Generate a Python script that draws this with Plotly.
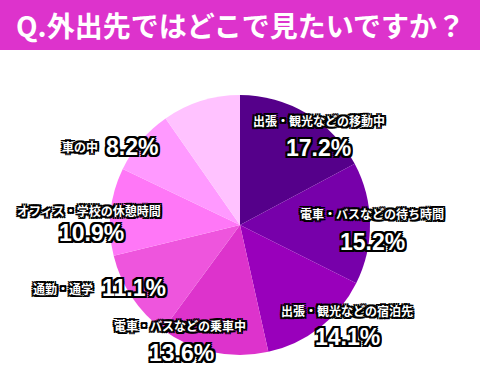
import plotly.graph_objects as go

title_text = "Q.外出先ではどこで見たいですか？"
categories = ["出張・観光などの移動中", "電車・バスなどの待ち時間", "出張・観光などの宿泊先",
              "電車・バスなどの乗車中", "通勤・通学", "オフィス・学校の休憩時間", "車の中", "その他"]
values = [17.2, 15.2, 14.1, 13.6, 11.1, 10.9, 8.2, 9.7]
colors = ["#55008a", "#7700aa", "#9900bb", "#dd33cc", "#ee55dd", "#ff77f7", "#ff99ff", "#ffc2ff"]

W, H = 480, 370
# label layout (pixel positions): (name_x, name_y, pct_x, pct_y, name_anchor, pct_anchor)
label_pos = [
    (319, 120, 318, 148, "center", "center"),
    (372, 213, 372, 242, "center", "center"),
    (347, 310, 347, 337, "center", "center"),
    (180, 325, 181, 353, "center", "center"),
    (95, 288, 100, 288, "right", "left"),
    (89, 210, 91, 233, "center", "center"),
    (100, 146, 104, 147, "right", "left"),
]

fig = go.Figure()
fig.add_trace(go.Pie(
    labels=categories, values=values, sort=False, direction="clockwise", rotation=0,
    marker=dict(colors=colors, line=dict(width=0)),
    textinfo="none", hoverinfo="label+percent",
    domain=dict(x=[110 / W, 370 / W], y=[1 - 355 / H, 1 - 95 / H]),
    showlegend=False,
))

outline = ("-2px -2px 0 #000, 2px -2px 0 #000, -2px 2px 0 #000, 2px 2px 0 #000, "
           "0 2px 0 #000, 0 -2px 0 #000, 2px 0 0 #000, -2px 0 0 #000")
annotations = []
for i, (nx, ny, px, py, na, pa) in enumerate(label_pos):
    annotations.append(dict(
        text=categories[i], x=nx / W, y=1 - ny / H, xref="paper", yref="paper",
        xanchor=na, yanchor="middle", showarrow=False,
        font=dict(family="Noto Sans CJK JP", size=12, color="white", weight="bold", shadow=outline),
    ))
    annotations.append(dict(
        text=f"{values[i]:.1f}%", x=px / W, y=1 - py / H, xref="paper", yref="paper",
        xanchor=pa, yanchor="middle", showarrow=False,
        font=dict(family="Liberation Sans", size=23, color="white", weight="bold", shadow=outline),
    ))

annotations.append(dict(
    text=title_text, x=0.5, y=1 - 25 / H, xref="paper", yref="paper",
    xanchor="center", yanchor="middle", showarrow=False,
    font=dict(family="Noto Sans CJK JP", size=28, color="white", weight="bold"),
))

fig.update_layout(
    width=W, height=H, margin=dict(l=0, r=0, t=0, b=0),
    paper_bgcolor="white", plot_bgcolor="white",
    shapes=[dict(type="rect", xref="paper", yref="paper", x0=0, x1=1, y0=1 - 50 / H, y1=1,
                 fillcolor="#dd33cc", line=dict(width=0), layer="below")],
    annotations=annotations,
)

fig.write_html("out.html", config={"displayModeBar": False},
               post_script="document.body.style.margin='0';document.body.style.overflow='hidden';")
